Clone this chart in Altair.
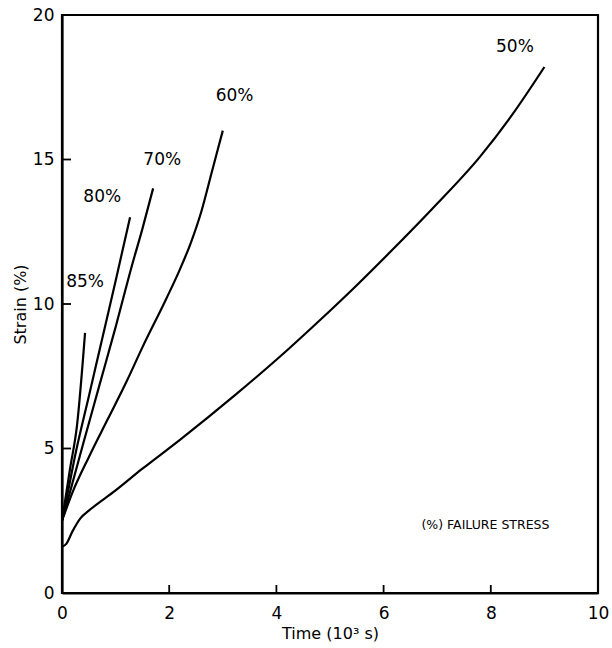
import altair as alt
import pandas as pd

# Creep curves: strain (%) against time (10^3 s) at several fractions of failure stress
t85 = [0.0, 0.15, 0.28, 0.43]
e85 = [2.5, 4.3, 5.8, 9.0]

t80 = [0.0, 0.1, 0.25, 0.5, 0.75, 1.0, 1.27]
e80 = [2.5, 3.4, 4.8, 6.8, 8.8, 10.8, 13.0]

t70 = [0.0, 0.15, 0.4, 0.7, 1.0, 1.3, 1.5, 1.7]
e70 = [2.5, 3.5, 5.2, 7.2, 9.2, 11.3, 12.6, 14.0]

t60 = [0.0, 0.2, 0.5, 0.85, 1.2, 1.5, 1.95, 2.2, 2.4, 2.6, 2.8, 3.0]
e60 = [2.5, 3.5, 4.7, 6.0, 7.3, 8.5, 10.2, 11.2, 12.1, 13.2, 14.6, 16.0]

t50 = [0.0, 0.08, 0.2, 0.35, 0.5, 1.0, 1.5, 2.2, 3.25, 4.2, 4.8, 5.5, 6.15, 6.9, 7.8, 8.4, 9.0]
e50 = [1.6, 1.7, 2.15, 2.6, 2.85, 3.55, 4.3, 5.3, 6.88, 8.4, 9.42, 10.65, 11.85, 13.28, 15.1, 16.55, 18.2]

series = ["85%", "80%", "70%", "60%", "50%"]
times = [t85, t80, t70, t60, t50]
strains = [e85, e80, e70, e60, e50]

# Curve labels and their anchor points
label_text = ["85%", "80%", "70%", "60%", "50%"]
label_x = [0.43, 0.75, 1.87, 3.22, 8.45]
label_y = [10.76, 13.7, 15.0, 17.2, 18.9]

x_ticks = [2, 4, 6, 8]
y_ticks = [5, 10, 15]

rows = []
for name, ts, es in zip(series, times, strains):
    for i, (t, e) in enumerate(zip(ts, es)):
        rows.append({"stress": name, "time": t, "strain": e, "order": i})
curves = pd.DataFrame(rows)
labels = pd.DataFrame({"text": label_text, "time": label_x, "strain": label_y})
xt = pd.DataFrame({"time": x_ticks})
yt = pd.DataFrame({"strain": y_ticks})
note = pd.DataFrame({"text": ["(%) FAILURE STRESS"], "time": [7.9], "strain": [2.35]})

FONT = "DejaVu Sans"

xscale = alt.Scale(domain=[0, 10], nice=False, zero=False)
yscale = alt.Scale(domain=[0, 20], nice=False, zero=False)

xaxis = alt.Axis(values=[0, 2, 4, 6, 8, 10], title="Time (10³ s)", labelPadding=12,
                 titlePadding=4, labelFlush=False)
yaxis = alt.Axis(values=[0, 5, 10, 15, 20], title="Strain (%)", labelPadding=8,
                 titlePadding=4, labelFlush=False)

lines = alt.Chart(curves).mark_line(color="black", strokeWidth=2.2, interpolate="monotone").encode(
    x=alt.X("time:Q", scale=xscale, axis=xaxis),
    y=alt.Y("strain:Q", scale=yscale, axis=yaxis),
    detail="stress:N",
    order="order:Q",
)

text = alt.Chart(labels).mark_text(font=FONT, fontSize=17, color="black").encode(
    x=alt.X("time:Q", scale=xscale),
    y=alt.Y("strain:Q", scale=yscale),
    text="text:N",
)

legend_note = alt.Chart(note).mark_text(font=FONT, fontSize=12.5, color="black").encode(
    x=alt.X("time:Q", scale=xscale),
    y=alt.Y("strain:Q", scale=yscale),
    text="text:N",
)

xtick_marks = alt.Chart(xt).mark_rule(color="black", strokeWidth=1.8).encode(
    x=alt.X("time:Q", scale=xscale),
    y=alt.value(578),
    y2=alt.value(570),
)

ytick_marks = alt.Chart(yt).mark_rule(color="black", strokeWidth=1.8).encode(
    y=alt.Y("strain:Q", scale=yscale),
    x=alt.value(0),
    x2=alt.value(9),
)

chart = alt.layer(lines, text, legend_note, xtick_marks, ytick_marks).properties(
    width=536,
    height=578,
    autosize=alt.AutoSizeParams(type="none"),
    padding={"left": 62, "top": 15, "right": 14, "bottom": 55},
    background="white",
).configure_view(
    stroke="black", strokeWidth=2.2
).configure_axis(
    grid=False,
    ticks=False,
    domainColor="black",
    domainWidth=2.2,
    labelFont=FONT,
    labelFontSize=17,
    labelColor="black",
    titleFont=FONT,
    titleFontSize=16,
    titleFontWeight="normal",
    titleColor="black",
)

chart.save("out.html", embed_options={"renderer": "svg", "actions": False})
